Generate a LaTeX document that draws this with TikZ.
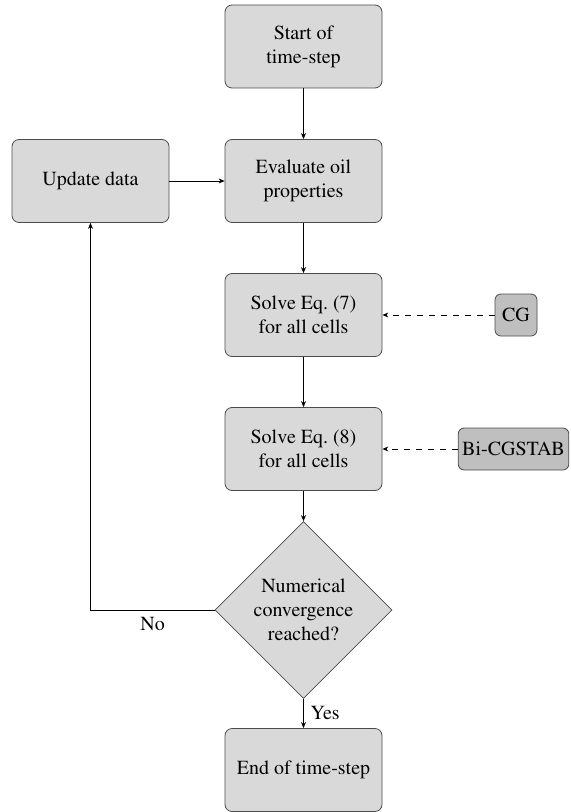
\documentclass[tikz,border=0pt]{standalone}
\usepackage[T1]{fontenc}
\usepackage{mathptmx}
\usepackage{tikz}
\usetikzlibrary{shapes.geometric}
\usetikzlibrary{arrows.meta}

\begin{document}
\begin{tikzpicture}[x=0.5pt, y=-0.5pt,
		boxStyle/.style={rectangle, rounded corners=3.5pt, draw=black!70, fill=black!15, minimum width=78.5pt, minimum height=41.5pt, align=center},
		decisionStyle/.style={diamond, draw=black!70, fill=black!15, minimum width=88.5pt, minimum height=88.5pt, inner sep=0pt, align=center},
		solverStyle/.style={rectangle, rounded corners=3pt, draw=black!70, fill=black!25, minimum width=21pt, minimum height=21pt, inner sep=2pt},
		>={Stealth[length=3pt, width=2.5pt]}]
			\useasboundingbox (0,0) rectangle (571,812);

			% Main column
			\node[boxStyle] (start) at (303.5, 46.5) {Start of\\time-step};
			\node[boxStyle] (evaluate) at (303.5, 181) {Evaluate oil\\properties};
			\node[boxStyle] (solve7) at (303.5, 315) {Solve Eq.~(7)\\for all cells};
			\node[boxStyle] (solve8) at (303.5, 449) {Solve Eq.~(8)\\for all cells};
			\node[decisionStyle] (converged) at (303.5, 610) {Numerical\\convergence\\reached?};
			\node[boxStyle] (finish) at (303.5, 770) {End of time-step};

			% Loop back
			\node[boxStyle] (update) at (90.5, 181) {Update data};

			% Solvers
			\node[solverStyle] (cg) at (516, 315) {CG};
			\node[solverStyle] (bicg) at (513.5, 449) {Bi-CGSTAB};

			\draw[->] (start) -- (evaluate);
			\draw[->] (evaluate) -- (solve7);
			\draw[->] (solve7) -- (solve8);
			\draw[->] (solve8) -- (converged);
			\draw[->] (converged) -- node[right] {Yes} (finish);
			\draw[->] (converged.west) -| node[pos=0.25, below] {No} (update.south);
			\draw[->] (update) -- (evaluate);

			\draw[dashed, ->] (cg.west) -- (solve7.east);
			\draw[dashed, ->] (bicg.west) -- (solve8.east);

		\end{tikzpicture}
\end{document}
